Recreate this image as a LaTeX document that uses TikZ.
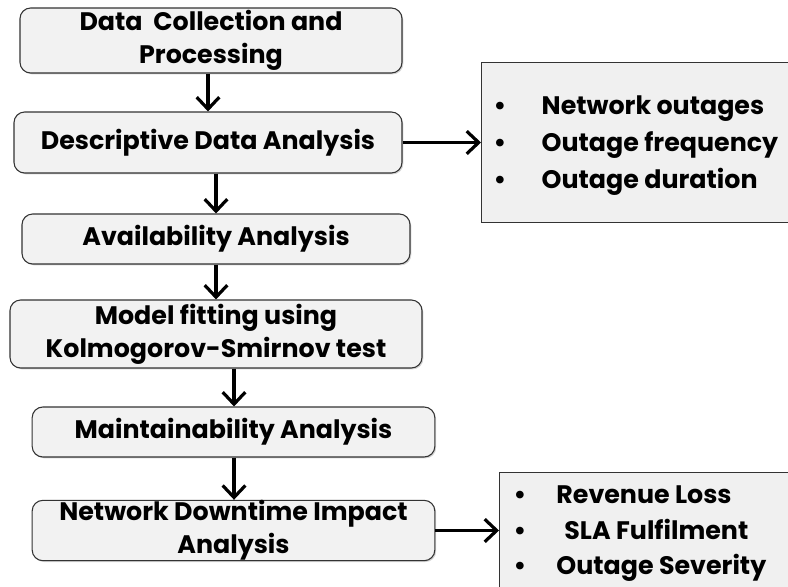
\documentclass[tikz,border=0pt]{standalone}
\usepackage{fontspec}
\setmainfont{Poppins}
\usetikzlibrary{arrows.meta,shadows}

\begin{document}
\begin{tikzpicture}[x=0.75pt, y=-0.75pt, every node/.style={font=\fontsize{19}{25}\selectfont\bfseries}]
		% Styles
		\tikzstyle{stage}=[draw=black!80, fill=black!5, rounded corners=8pt, line width=0.8pt, align=center, inner sep=0pt, drop shadow={shadow xshift=1pt, shadow yshift=-1pt, opacity=0.35}]
		\tikzstyle{listbox}=[draw=black!80, fill=black!6, line width=0.8pt, align=left, inner sep=0pt, anchor=north west]
		\tikzstyle{flow}=[draw, line width=2.4pt, -{Straight Barb[length=9pt, width=17pt, line width=2.4pt]}]

		\useasboundingbox (0,0) rectangle (788,586);

		% Stages of the analysis
		\node[stage, minimum width=286.5pt, minimum height=48.75pt] (collect) at (211,40.5) {Data\ \ Collection and\\Processing};
		\node[stage, minimum width=291pt, minimum height=45.75pt] (describe) at (208,142.5) {Descriptive Data Analysis};
		\node[stage, minimum width=291pt, minimum height=37.5pt] (avail) at (216,239) {Availability Analysis};
		\node[stage, minimum width=309pt, minimum height=51pt] (fit) at (216,334) {Model fitting using\\Kolmogorov-Smirnov test};
		\node[stage, minimum width=302pt, minimum height=37.5pt] (maintain) at (233.5,432) {Maintainability Analysis};
		\node[stage, minimum width=302pt, minimum height=44.25pt] (impact) at (233.5,530.5) {Network Downtime Impact\\Analysis};

		% Outputs
		\node[listbox, minimum width=234pt, minimum height=120pt] (outages) at (481,62) {};
		\node[anchor=west, align=left, font=\fontsize{19}{27.75}\selectfont\bfseries] (outtext) at (489,146)
			{\makebox[36pt][l]{\textbullet}Network outages\\\makebox[36pt][l]{\textbullet}Outage frequency\\\makebox[36pt][l]{\textbullet}Outage duration};
		\node[listbox, minimum width=222pt, minimum height=90pt] (loss) at (499,472) {};
		\node[anchor=west, align=left, font=\fontsize{19}{26.6}\selectfont\bfseries] (losstext) at (509,534)
			{\makebox[32pt][l]{\textbullet}Revenue Loss\\\makebox[32pt][l]{\textbullet}\hspace{6pt}SLA Fulfilment\\\makebox[32pt][l]{\textbullet}Outage Severity};

		% Connect the stages
		\path[flow] (collect.south -| 208,0) -- (describe.north -| 208,0);
		\foreach \source/\dest/\x in {describe/avail/216, avail/fit/216, fit/maintain/234, maintain/impact/234}
		\path[flow] (\source.south -| \x,0) -- (\dest.north -| \x,0);

		% Connect stages to outputs
		\path[flow] (describe.east) -- (outages.west |- describe.east);
		\path[flow] (impact.east) -- (loss.west |- impact.east);
	\end{tikzpicture}
\end{document}
